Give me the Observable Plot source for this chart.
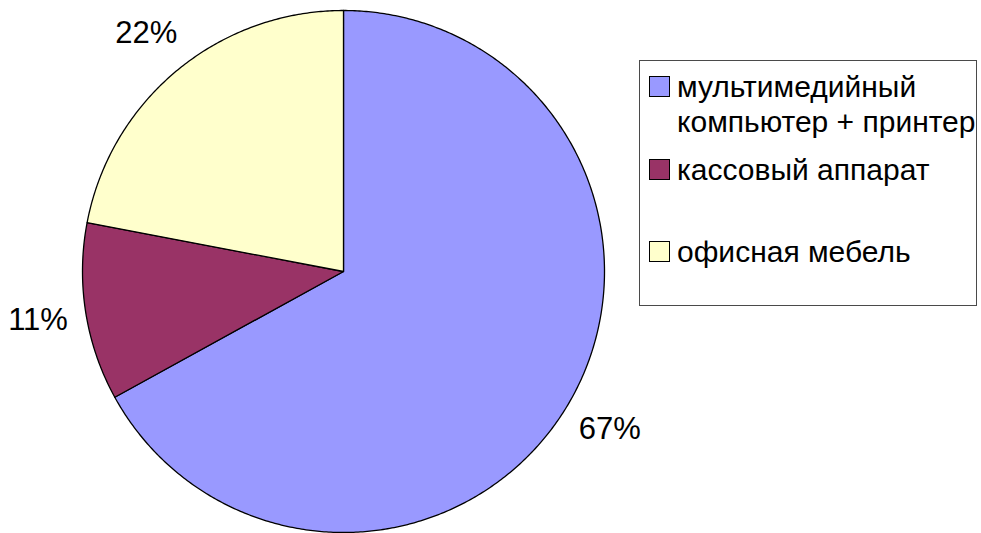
<!DOCTYPE html>
<html>
<head>
<meta charset="utf-8">
<script src="https://cdn.jsdelivr.net/npm/d3@7"></script>
<script src="https://cdn.jsdelivr.net/npm/@observablehq/plot@0.6"></script>
<style>
  html, body { margin: 0; padding: 0; background: #fff; }
  #chart { position: relative; width: 981px; height: 533px; font-family: "Liberation Sans", Arial, sans-serif; }
  #legend {
    position: absolute; left: 639px; top: 60px; width: 338px; height: 246px;
    border: 1.5px solid #4a4a4a; box-sizing: border-box; background: #fff;
  }
  .entry { position: absolute; left: 9px; display: flex; align-items: flex-start; }
  .swatch { width: 19px; height: 19px; border: 1.2px solid #000; margin-top: 7px; margin-right: 7px; flex: none; }
  .entry span { font-size: 30px; line-height: 35px; white-space: pre-line; color: #000; }
</style>
</head>
<body>
<div id="chart"></div>
<script>
// Equipment cost shares (percent)
const categories = ["мультимедийный\nкомпьютер + принтер", "кассовый аппарат", "офисная мебель"];
const shares = [67, 11, 22];
const valueLabels = ["67%", "11%", "22%"];
const colors = ["#9999FF", "#993366", "#FFFFCC"];

// Slice angles, clockwise from 12 o'clock in data order
const arcs = d3.pie().sort(null).value(d => d)(shares);

// Outline of each slice as a closed polygon in unit-circle coordinates
function sliceOutline(a) {
  const pts = [{x: 0, y: 0}];
  const n = Math.max(2, Math.ceil((a.endAngle - a.startAngle) / (Math.PI / 360)));
  for (let i = 0; i <= n; i++) {
    const t = a.startAngle + (a.endAngle - a.startAngle) * i / n;
    pts.push({x: Math.sin(t), y: Math.cos(t)});
  }
  return pts;
}

const labelRadius = 1.185;
const labelData = arcs.map((a, i) => {
  const m = (a.startAngle + a.endAngle) / 2;
  return {x: Math.sin(m) * labelRadius, y: Math.cos(m) * labelRadius, text: valueLabels[i]};
});

const plot = Plot.plot({
  width: 981,
  height: 533,
  marginLeft: 82,
  marginRight: 377,
  marginTop: 10,
  marginBottom: 1,
  x: {domain: [-1, 1], axis: null},
  y: {domain: [-1, 1], axis: null},
  style: {background: "transparent", fontFamily: "Liberation Sans, Arial, sans-serif", overflow: "visible"},
  marks: [
    ...arcs.map((a, i) => Plot.line(sliceOutline(a), {
      x: "x", y: "y",
      curve: "linear-closed",
      fill: colors[i],
      stroke: "#000",
      strokeWidth: 1.3,
      strokeLinejoin: "round"
    })),
    Plot.text(labelData, {
      x: "x", y: "y", text: "text",
      fontSize: 31, fill: "#000",
      textAnchor: "middle", lineAnchor: "middle"
    })
  ]
});

const chart = document.getElementById("chart");
chart.appendChild(plot);

// Legend box on the right
const legend = document.createElement("div");
legend.id = "legend";
const entryTops = [8, 91, 173];
categories.forEach((name, i) => {
  const entry = document.createElement("div");
  entry.className = "entry";
  entry.style.top = entryTops[i] + "px";
  const sw = document.createElement("div");
  sw.className = "swatch";
  sw.style.background = colors[i];
  const label = document.createElement("span");
  label.textContent = name;
  entry.appendChild(sw);
  entry.appendChild(label);
  legend.appendChild(entry);
});
chart.appendChild(legend);
</script>
</body>
</html>
